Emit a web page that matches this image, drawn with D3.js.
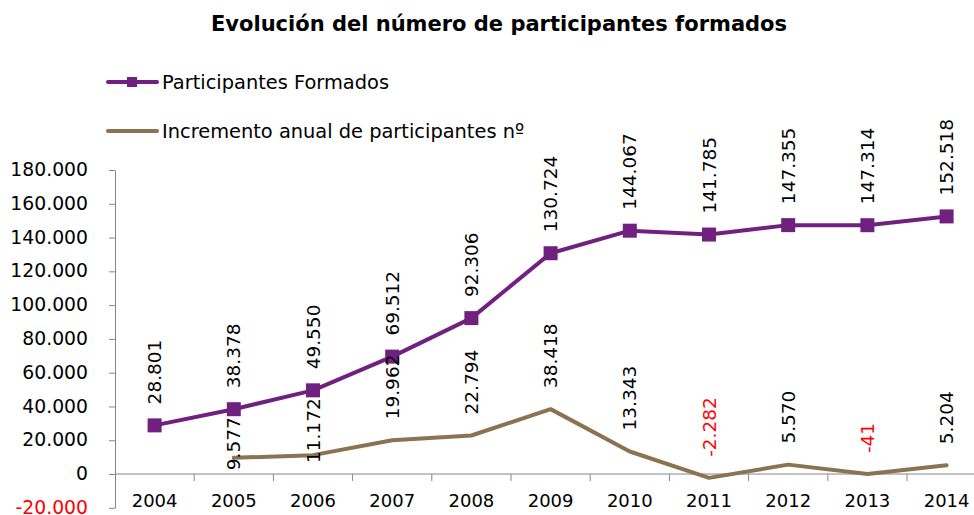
<!DOCTYPE html>
<html>
<head>
<meta charset="utf-8">
<script src="https://cdn.jsdelivr.net/npm/d3@7"></script>
<style>
  body { margin: 0; background: #fff; }
  svg { display: block; }
  text { font-family: "DejaVu Sans", Verdana, sans-serif; }
</style>
</head>
<body>
<div id="chart"></div>
<script>
// data
var years = ["2004", "2005", "2006", "2007", "2008", "2009", "2010", "2011", "2012", "2013", "2014"];
var formados = [28801, 38378, 49550, 69512, 92306, 130724, 144067, 141785, 147355, 147314, 152518];
var incremento = [null, 9577, 11172, 19962, 22794, 38418, 13343, -2282, 5570, -41, 5204];
var yTicks = [-20000, 0, 20000, 40000, 60000, 80000, 100000, 120000, 140000, 160000, 180000];
var seriesNames = ["Participantes Formados", "Incremento anual de participantes nº"];

var width = 974, height = 515;
var purple = "#70217f", brown = "#8b7352", axisGrey = "#868686";

// spanish number format: 152.518, -2.282
var es = d3.formatLocale({decimal: ",", thousands: ".", grouping: [3], currency: ["", " €"], minus: "-"});
var fmt = es.format(",d");

var svg = d3.select("#chart").append("svg")
    .attr("width", width)
    .attr("height", height);

var x = d3.scaleBand()
    .domain(years)
    .range([115, 115 + 11 * 79.2])
    .paddingInner(0)
    .paddingOuter(0);

var y = d3.scaleLinear()
    .domain([-20000, 180000])
    .range([507.8, 170]);

function cx(d) { return x(d) + x.bandwidth() / 2; }

// title
svg.append("text")
    .attr("x", 499)
    .attr("y", 31)
    .attr("text-anchor", "middle")
    .style("font-weight", "bold")
    .style("font-size", "21px")
    .text("Evolución del número de participantes formados");

// y axis
var yAxis = svg.append("g")
    .attr("transform", "translate(115,0)")
    .call(d3.axisLeft(y).tickValues(yTicks).tickFormat(fmt).tickSize(6).tickSizeOuter(0).tickPadding(21));
yAxis.select(".domain").attr("stroke", axisGrey);
yAxis.selectAll(".tick line").attr("stroke", axisGrey);
yAxis.selectAll(".tick text")
    .style("font-size", "18.8px")
    .style("font-family", "\"DejaVu Sans\", Verdana, sans-serif")
    .attr("dy", "0.3em")
    .attr("fill", function(d) { return d < 0 ? "#ff0000" : "#000"; });

// x axis at zero
var x0 = y(0);
svg.append("line")
    .attr("x1", 115).attr("x2", width)
    .attr("y1", x0).attr("y2", x0)
    .attr("stroke", axisGrey);

svg.selectAll(".xtick")
    .data(years.slice(1))
  .enter().append("line")
    .attr("class", "xtick")
    .attr("x1", function(d) { return x(d); })
    .attr("x2", function(d) { return x(d); })
    .attr("y1", x0).attr("y2", x0 + 7)
    .attr("stroke", axisGrey);

svg.selectAll(".xlabel")
    .data(years)
  .enter().append("text")
    .attr("class", "xlabel")
    .attr("x", cx)
    .attr("y", x0 + 33)
    .attr("text-anchor", "middle")
    .style("font-size", "18px")
    .text(function(d) { return d; });

// lines
var line = d3.line()
    .defined(function(d) { return d != null; })
    .x(function(d, i) { return cx(years[i]); })
    .y(function(d) { return y(d); });

svg.append("path")
    .datum(incremento)
    .attr("d", line)
    .attr("fill", "none")
    .attr("stroke", brown)
    .attr("stroke-width", 4)
    .attr("stroke-linejoin", "round")
    .attr("stroke-linecap", "round");

svg.append("path")
    .datum(formados)
    .attr("d", line)
    .attr("fill", "none")
    .attr("stroke", purple)
    .attr("stroke-width", 4)
    .attr("stroke-linejoin", "round");

svg.selectAll(".marker")
    .data(formados)
  .enter().append("rect")
    .attr("class", "marker")
    .attr("x", function(d, i) { return cx(years[i]) - 7; })
    .attr("y", function(d) { return y(d) - 7; })
    .attr("width", 14)
    .attr("height", 14)
    .attr("fill", purple);

// data labels, rotated, sitting above their point
var gap = 21;
function addLabels(values, cls) {
  return svg.selectAll("." + cls)
      .data(values.map(function(v, i) { return {v: v, i: i, year: years[i]}; })
                  .filter(function(d) { return d.v != null; }))
    .enter().append("text")
      .attr("class", cls)
      .attr("dy", "0.36em")
      .attr("text-anchor", "start")
      .style("font-size", "18.5px")
      .attr("fill", function(d) { return d.v < 0 ? "#ff0000" : "#000"; })
      .text(function(d) { return fmt(d.v); })
      .each(function(d) { d.len = this.getComputedTextLength(); d.base = y(d.v) - gap; });
}
var labF = addLabels(formados, "lab-f");
var labI = addLabels(incremento, "lab-i");

// if an increment label runs into the label above it, drop it under the purple marker
labI.each(function(d) {
  var pBottom = y(formados[d.i]) - gap;
  if (d.base - d.len < pBottom + 4) d.base = y(formados[d.i]) + 8 + d.len;
});

labF.attr("transform", function(d) { return "translate(" + cx(d.year) + "," + d.base + ") rotate(-90)"; });
labI.attr("transform", function(d) { return "translate(" + cx(d.year) + "," + d.base + ") rotate(-90)"; });

// legend
var legend = svg.append("g");
var leg1 = legend.append("g").attr("transform", "translate(0,82)");
leg1.append("line").attr("x1", 108).attr("x2", 157)
    .attr("stroke", purple).attr("stroke-width", 4).attr("stroke-linecap", "round");
leg1.append("rect").attr("x", 127).attr("y", -5).attr("width", 10).attr("height", 10).attr("fill", purple);
leg1.append("text").attr("x", 162).attr("dy", "0.35em").style("font-size", "19.4px").text(seriesNames[0]);

var leg2 = legend.append("g").attr("transform", "translate(0,131)");
leg2.append("line").attr("x1", 108).attr("x2", 157)
    .attr("stroke", brown).attr("stroke-width", 4).attr("stroke-linecap", "round");
leg2.append("text").attr("x", 162).attr("dy", "0.35em").style("font-size", "19.4px").text(seriesNames[1]);
</script>
</body>
</html>
